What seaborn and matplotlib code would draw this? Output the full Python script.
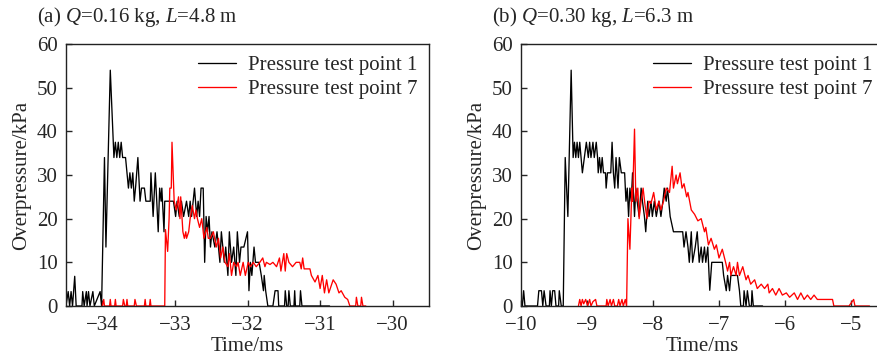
import matplotlib
matplotlib.use("Agg")
import matplotlib.pyplot as plt
import seaborn as sns
import pandas as pd

# ---------------- data ----------------
# (a) Q=0.16 kg, L=4.8 m
a_t1 = [-34.50, -34.47, -34.45, -34.43, -34.41, -34.38, -34.36, -34.28, -34.27, -34.25,
        -34.22, -34.21, -34.19, -34.17, -34.13, -34.11, -34.03, -34.01, -33.97, -33.95,
        -33.89, -33.84, -33.82, -33.80, -33.78, -33.76, -33.74, -33.72, -33.68, -33.66,
        -33.64, -33.62, -33.60, -33.58, -33.56, -33.54, -33.51, -33.48, -33.46, -33.42,
        -33.40, -33.34, -33.33, -33.30, -33.27, -33.25, -33.23, -33.21, -33.19, -33.18,
        -33.15, -33.14, -33.02, -32.99, -32.97, -32.94, -32.91, -32.88, -32.84, -32.81,
        -32.79, -32.77, -32.73, -32.70, -32.68, -32.66, -32.64, -32.61, -32.59, -32.57,
        -32.55, -32.53, -32.51, -32.49, -32.45, -32.42, -32.38, -32.36, -32.32, -32.30,
        -32.27, -32.25, -32.22, -32.19, -32.16, -32.14, -32.11, -32.09, -32.05, -32.00,
        -31.98, -31.96, -31.94, -31.91, -31.89, -31.84, -31.81, -31.78, -31.77, -31.75,
        -31.72, -31.65, -31.62, -31.58, -31.57, -31.49, -31.48, -31.46, -31.44, -31.43,
        -31.41, -31.36, -31.35, -31.34, -31.28, -31.27, -31.25, -30.87]
a_p1 = [0, 3.3, 0, 3.3, 0, 6.8, 0, 0, 3.3, 0,
        3.3, 0, 3.3, 0, 3.3, 0, 3.3, 0, 34, 13.5,
        54, 34, 37.5, 34, 37.5, 34, 37.5, 34, 34, 30.5,
        27, 30.5, 27, 30.5, 24, 27.5, 34, 24, 27, 27,
        24, 24, 30.5, 20.5, 30.5, 24, 17, 27, 24, 27,
        17, 24, 24, 20.5, 24, 20.5, 24, 20.5, 24, 20.5,
        24, 20.5, 27, 20.5, 24, 20.5, 27, 27, 10, 20.5,
        17, 20.5, 13.5, 17, 13.5, 17, 10, 17, 10, 13.5,
        7, 17, 10, 13.5, 7, 17, 10, 13.5, 13.5, 17,
        3.5, 10, 7, 13.5, 10, 10, 7, 3.5, 7, 3.5,
        0, 0, 3.5, 3.5, 0, 0, 3.5, 0, 0, 3.5,
        0, 0, 3.5, 0, 0, 3.5, 0, 0]

a_t7 = [-34.00, -33.98, -33.97, -33.90, -33.89, -33.88, -33.83, -33.82, -33.81, -33.72,
        -33.71, -33.69, -33.67, -33.66, -33.65, -33.56, -33.55, -33.53, -33.42, -33.41,
        -33.40, -33.35, -33.34, -33.33, -33.14, -33.13, -33.10, -33.08, -33.07, -33.05,
        -33.04, -33.01, -32.98, -32.95, -32.93, -32.92, -32.89, -32.87, -32.85, -32.84,
        -32.81, -32.79, -32.76, -32.73, -32.71, -32.69, -32.66, -32.63, -32.60, -32.56,
        -32.54, -32.51, -32.47, -32.43, -32.40, -32.37, -32.34, -32.31, -32.27, -32.25,
        -32.22, -32.19, -32.15, -32.13, -32.10, -32.06, -32.03, -31.99, -31.96, -31.92,
        -31.88, -31.83, -31.79, -31.76, -31.74, -31.69, -31.65, -31.60, -31.56, -31.54,
        -31.50, -31.48, -31.46, -31.43, -31.38, -31.33, -31.28, -31.26, -31.24, -31.22,
        -31.14, -31.12, -31.07, -31.03, -31.00, -30.97, -30.94, -30.91, -30.88, -30.82,
        -30.78, -30.74, -30.71, -30.66, -30.62, -30.59, -30.51, -30.50, -30.48, -30.44,
        -30.43, -30.41, -30.37]
a_p7 = [0, 1.5, 0, 0, 1.5, 0, 0, 1.5, 0, 0,
        1.5, 0, 0, 1.5, 0, 0, 1.5, 0, 0, 1.5,
        0, 0, 1.5, 0, 0, 17.5, 12.5, 20, 27, 27,
        37.5, 24, 22, 25, 20, 25, 17, 15.5, 17, 15.5,
        17, 20, 23, 20, 22, 20, 18, 20, 15.5, 18,
        15.5, 15.5, 17, 13.5, 15.5, 11, 13.5, 10, 9, 12,
        7, 10, 9, 10, 7, 10, 7, 10, 9, 10,
        9, 10, 11, 9, 10, 9.5, 10, 9, 11, 8,
        12, 8, 12, 10, 9, 10, 10, 8.5, 11, 8.5,
        8.5, 7, 5.5, 7, 4, 7, 3, 6, 3, 6,
        5, 3, 3.5, 2, 1.5, 0, 0, 2, 0, 0,
        2, 0, 0]

# (b) Q=0.30 kg, L=6.3 m
b_t1 = [-10.00, -9.98, -9.96, -9.94, -9.75, -9.73, -9.69, -9.67, -9.65, -9.62,
        -9.57, -9.56, -9.54, -9.52, -9.49, -9.47, -9.43, -9.42, -9.39, -9.36,
        -9.33, -9.29, -9.24, -9.21, -9.19, -9.17, -9.15, -9.13, -9.11, -9.09,
        -9.07, -9.04, -9.01, -8.98, -8.96, -8.94, -8.91, -8.89, -8.86, -8.84,
        -8.83, -8.81, -8.79, -8.77, -8.75, -8.72, -8.71, -8.69, -8.64, -8.62,
        -8.60, -8.58, -8.56, -8.53, -8.51, -8.48, -8.43, -8.41, -8.39, -8.37,
        -8.35, -8.33, -8.31, -8.28, -8.26, -8.24, -8.21, -8.18, -8.16, -8.13,
        -8.11, -8.08, -8.06, -8.03, -8.01, -7.98, -7.95, -7.91, -7.88, -7.85,
        -7.83, -7.80, -7.78, -7.74, -7.69, -7.55, -7.53, -7.50, -7.47, -7.45,
        -7.42, -7.40, -7.36, -7.33, -7.30, -7.27, -7.25, -7.22, -7.20, -7.17,
        -7.14, -7.11, -6.95, -6.93, -6.89, -6.87, -6.84, -6.82, -6.72, -6.69,
        -6.67, -6.63, -6.62, -6.59, -6.57, -6.54, -6.51, -6.50, -6.48, -6.34]
b_p1 = [0, 0, 3.5, 0, 0, 3.5, 3.5, 0, 3.5, 0,
        0, 3.5, 0, 3.5, 3.5, 0, 0, 3.5, 0, 0,
        34, 20.5, 54, 34, 37.5, 34, 37.5, 34, 37.5, 34,
        30.5, 34, 37.5, 34, 37.5, 34, 37.5, 34, 37.5, 34,
        30.5, 34, 30.5, 34, 30.5, 30.5, 27, 30.5, 30.5, 37.5,
        30.5, 27, 34, 27, 34, 30.5, 30.5, 24, 27, 20.5,
        27, 24, 30.5, 20.5, 27, 24, 20.5, 27, 24, 20.5,
        17, 24, 20.5, 24, 20.5, 24, 20.5, 24, 20.5, 24,
        27, 24, 27, 20.5, 17, 17, 13.5, 17, 13.5, 10,
        17, 10, 13.5, 17, 10, 13.5, 10, 13.5, 10, 13.5,
        3.6, 10, 10, 7, 3.5, 7, 3.5, 7, 7, 3.5,
        0, 0, 3.5, 0, 3.5, 0, 0, 3.5, 0, 0]

b_t7 = [-9.13, -9.11, -9.09, -9.07, -9.05, -9.02, -8.99, -8.96, -8.94, -8.91,
        -8.87, -8.85, -8.81, -8.71, -8.70, -8.68, -8.65, -8.63, -8.60, -8.58,
        -8.54, -8.52, -8.50, -8.47, -8.45, -8.42, -8.40, -8.38, -8.35, -8.32,
        -8.31, -8.28, -8.26, -8.23, -8.21, -8.18, -8.15, -8.12, -8.09, -8.06,
        -8.03, -7.99, -7.95, -7.91, -7.88, -7.84, -7.80, -7.75, -7.71, -7.69,
        -7.65, -7.63, -7.59, -7.56, -7.53, -7.49, -7.47, -7.42, -7.37, -7.32,
        -7.27, -7.22, -7.20, -7.16, -7.12, -7.07, -7.04, -7.00, -6.95, -6.90,
        -6.87, -6.84, -6.82, -6.78, -6.74, -6.72, -6.69, -6.64, -6.59, -6.56,
        -6.52, -6.46, -6.42, -6.36, -6.31, -6.26, -6.24, -6.19, -6.14, -6.09,
        -6.04, -5.98, -5.93, -5.86, -5.81, -5.76, -5.71, -5.66, -5.61, -5.56,
        -5.51, -5.28, -5.26, -5.03, -4.96, -4.94, -4.72]
b_p7 = [0, 1.5, 0, 1.5, 0.5, 1.5, 0, 1.5, 0, 1,
        1.5, 0, 0, 0, 1.5, 0, 1.5, 0, 1.5, 0,
        0, 1.5, 0, 1.5, 0, 1.5, 0, 20, 13, 27,
        24, 40.5, 24, 27, 20, 24, 27, 23, 20, 24,
        23.5, 26, 22, 24, 22, 24, 27, 26, 32, 27,
        30, 28, 30.5, 27, 28, 25, 26, 22, 21, 19.5,
        20, 17, 18, 14, 15.5, 13, 14, 11, 13, 10,
        8, 10, 7, 9, 7, 10, 7, 9, 6, 7,
        5, 6, 4, 5, 4, 5, 3, 4, 2.5, 4,
        2.5, 3, 2, 3, 1.5, 3, 1.5, 2.5, 1.5, 2.5,
        1.5, 1.5, 0, 0, 1.5, 0, 0]

panel_titles = ["(a) $Q$=0.16 kg, $L$=4.8 m", "(b) $Q$=0.30 kg, $L$=6.3 m"]
series_names = ["Pressure test point 1", "Pressure test point 7"]
xlims = [(-34.5, -29.5), (-10, -4.5)]
xticks = [[-34, -33, -32, -31, -30], [-10, -9, -8, -7, -6, -5]]
yticks = [0, 10, 20, 30, 40, 50, 60]

# ---------------- style ----------------
sns.set_style("ticks")
plt.rcParams["font.family"] = ["Liberation Serif", "DejaVu Serif"]
plt.rcParams["mathtext.fontset"] = "custom"
plt.rcParams["mathtext.rm"] = "Liberation Serif"
plt.rcParams["mathtext.it"] = "Liberation Serif:italic"
plt.rcParams["font.size"] = 15
plt.rcParams["axes.linewidth"] = 1.0
plt.rcParams["axes.edgecolor"] = "#222222"

fig = plt.figure(figsize=(8.77, 3.61), dpi=100)
W, H = 877, 361
ax_a = fig.add_axes([66 / W, 55 / H, 363 / W, 262 / H])
ax_b = fig.add_axes([521 / W, 55 / H, 363 / W, 262 / H])

data = [((a_t1, a_p1), (a_t7, a_p7)), ((b_t1, b_p1), (b_t7, b_p7))]
colors = ["#000000", "#ff0000"]
title_x = [37 / W, 492 / W]

for i, ax in enumerate([ax_a, ax_b]):
    for j, (tt, pp) in enumerate(data[i]):
        df = pd.DataFrame({"t": tt, "p": pp})
        sns.lineplot(data=df, x="t", y="p", ax=ax, color=colors[j], lw=0.95,
                     sort=False, estimator=None, label=series_names[j])
    ax.set_xlim(*xlims[i])
    ax.set_ylim(0, 60)
    ax.set_xticks(xticks[i])
    ax.set_yticks(yticks)
    ax.tick_params(direction="in", length=4.5, width=1.0, labelsize=15)
    ax.tick_params(axis="x", pad=7.5)
    ax.tick_params(axis="y", pad=6)
    ax.set_xlabel("Time/ms", fontsize=15, labelpad=1)
    ax.set_ylabel("Overpressure/kPa", fontsize=15)
    ax.yaxis.set_label_coords(-0.095, 0.5)
    leg = ax.legend(loc="upper right", frameon=False, fontsize=15,
                    handlelength=1.8, handletextpad=0.6, labelspacing=0.2,
                    borderaxespad=0.15)
    fig.text(title_x[i], 1 - 17 / H, panel_titles[i], fontsize=15,
             ha="left", va="center")

fig.savefig("out.png", dpi=100)
